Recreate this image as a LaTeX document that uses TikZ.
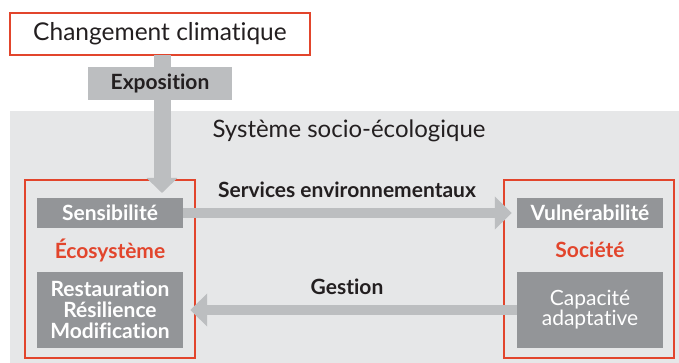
\documentclass[tikz,border=0pt]{standalone}
\usepackage{fontspec}
\setmainfont{Lato}[Ligatures=NoCommon]
\usetikzlibrary{arrows.meta}
\definecolor{rouge}{HTML}{E2452C}
\definecolor{fond}{HTML}{E6E7E8}
\definecolor{fleche}{HTML}{BCBEC0}
\definecolor{boite}{HTML}{939598}
\definecolor{texte}{HTML}{231F20}
\tikzset{
    cadre/.style={draw=rouge, line width=1.4pt, inner sep=0pt},
    gris/.style={fill=boite, text=white, font=\fontsize{21}{21}\selectfont\bfseries,
        inner sep=0pt, minimum width=146pt, align=center},
    titre/.style={text=rouge, font=\fontsize{21}{22}\selectfont\bfseries},
    etiquette/.style={text=texte, font=\fontsize{21}{22}\selectfont\bfseries},
    fl/.style={draw=fleche, line width=#1}
}
\begin{document}
\begin{tikzpicture}[x=1pt, y=-1pt]
    \useasboundingbox (0,0) rectangle (679,363);
    \fill[fond] (10,111) rectangle (679,363);
    \node (systeme) at (349,131) [text=texte, font=\fontsize{24}{26}\selectfont] {Système socio-écologique};
    % boite du haut
    \node (climat) at (160,34) [cadre, fill=white, minimum width=300pt, minimum height=42pt,
        text=texte, font=\fontsize{24.5}{26}\selectfont] {Changement climatique};
    % les deux cadres
    \node (eco) at (110,269) [cadre, minimum width=170pt, minimum height=178pt] {};
    \node (soc) at (589,269) [cadre, minimum width=170pt, minimum height=178pt] {};
    \node (sens) at (110,213) [gris, minimum height=30pt] {Sensibilité};
    \node (ecotitre) at (110,250) [titre] {Écosystème};
    \node (rest) at (110,310) [gris, minimum height=76pt] {Restauration\\Résilience\\Modification};
    \node (vuln) at (590,213) [gris, minimum height=30pt] {Vulnérabilité};
    \node (soctitre) at (590,250) [titre] {Société};
    \node (cap) at (590,310) [gris, minimum height=76pt, font=\fontsize{21}{20}\selectfont] {Capacité\\adaptative};
    % fleches
    \coordinate (expo-haut) at (162,55);
    \coordinate (expo-bas) at (162,193);
    \draw[fl=17pt, -{Triangle[width=30pt, length=15pt]}] (expo-haut) -- (expo-bas);
    \node (expo) at (160,83.5) [fill=fleche, minimum width=144pt, minimum height=33pt, inner sep=0pt,
        etiquette] {Exposition};
    \draw[fl=10pt, -{Triangle[width=32pt, length=17pt]}] (sens.east) -- ([xshift=-5pt]vuln.west);
    \draw[fl=10pt, -{Triangle[width=32pt, length=17pt]}] (cap.west) -- ([xshift=7pt]rest.east);
    \node (services) at (347,190) [etiquette] {Services environnementaux};
    \node (gestion) at (347,287) [etiquette] {Gestion};
\end{tikzpicture}
\end{document}
